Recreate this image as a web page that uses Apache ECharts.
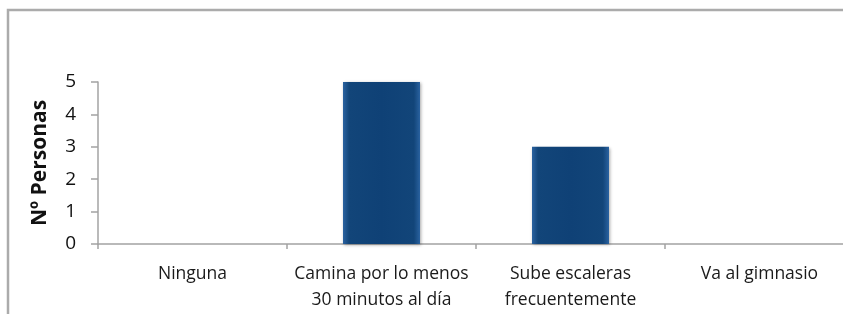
<!DOCTYPE html>
<html>
<head>
<meta charset="utf-8">
<script src="https://cdn.jsdelivr.net/npm/echarts@6/dist/echarts.min.js"></script>
<style>
html,body{margin:0;padding:0;background:#fff;overflow:hidden;width:843px;height:314px;}
#c{position:absolute;left:0;top:0;width:880px;height:340px;}
</style>
</head>
<body>
<div id="c"></div>
<script>
const categories = ['Ninguna', 'Camina por lo menos\n30 minutos al día', 'Sube escaleras\nfrecuentemente', 'Va al gimnasio'];
const values = [0, 5, 3, 0];
const yTicks = [0, 1, 2, 3, 4, 5];
const yTitle = 'Nº Personas';

const chart = echarts.init(document.getElementById('c'), null, {renderer: 'canvas'});
const barGradient = new echarts.graphic.LinearGradient(0, 0, 1, 0, [
  {offset: 0, color: '#2a62a0'},
  {offset: 0.08, color: '#124579'},
  {offset: 0.5, color: '#0f4176'},
  {offset: 0.92, color: '#124579'},
  {offset: 1, color: '#2a62a0'}
]);
chart.setOption({
  animation: false,
  graphic: [{
    type: 'rect',
    shape: {x: 8, y: 10, width: 900, height: 400},
    style: {fill: 'none', stroke: '#ababab', lineWidth: 2.5},
    z: 0
  }],
  grid: {left: 98, right: 26, top: 82, bottom: 96, containLabel: false},
  xAxis: {
    type: 'category',
    data: categories,
    axisLine: {show: true, lineStyle: {color: '#a3a3a3', width: 1.5}},
    axisTick: {show: true, length: 5, lineStyle: {color: '#a3a3a3', width: 1.5}},
    axisLabel: {
      interval: 0, margin: 17, color: '#1a1a1a',
      fontFamily: 'Open Sans', fontSize: 17.5, lineHeight: 26
    }
  },
  yAxis: {
    type: 'value',
    min: yTicks[0], max: yTicks[yTicks.length - 1], interval: 1,
    name: yTitle,
    nameLocation: 'middle',
    nameGap: 47,
    nameTextStyle: {fontFamily: 'Open Sans', fontWeight: 'bold', fontSize: 21, color: '#111'},
    axisLine: {show: true, lineStyle: {color: '#a3a3a3', width: 1.5}},
    axisTick: {show: true, length: 7, lineStyle: {color: '#a3a3a3', width: 1.5}},
    splitLine: {show: false},
    axisLabel: {margin: 22, color: '#111', fontFamily: 'Open Sans', fontSize: 19}
  },
  series: [{
    type: 'bar',
    data: values,
    barWidth: 77,
    itemStyle: {
      color: barGradient,
      borderWidth: 0,
      shadowColor: 'rgba(0,0,0,0.35)', shadowBlur: 3, shadowOffsetX: 1, shadowOffsetY: 1
    }
  }]
});
</script>
</body>
</html>
